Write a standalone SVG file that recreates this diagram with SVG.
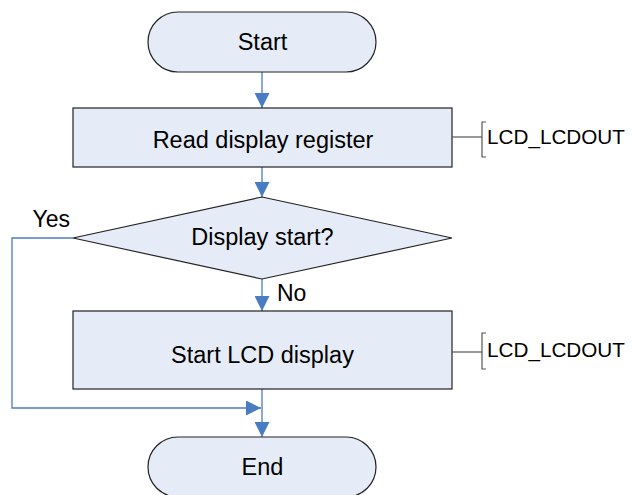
<svg xmlns="http://www.w3.org/2000/svg" width="632" height="495" viewBox="0 0 632 495">
<defs>
<style>
.node{fill:#E6ECF7;stroke:#222;stroke-width:1.2}
.t{font-family:"Liberation Sans",Arial,sans-serif;font-size:23.5px;fill:#000;text-anchor:middle}
.lbl{font-family:"Liberation Sans",Arial,sans-serif;font-size:23px;fill:#000}
.note{font-family:"Liberation Sans",Arial,sans-serif;font-size:20.7px;fill:#000}
.c{fill:none;stroke:#4A7CC4;stroke-width:1.3}
.br{fill:none;stroke:#555;stroke-width:1.2}
</style>
<marker id="ah" markerUnits="userSpaceOnUse" markerWidth="15" markerHeight="15" viewBox="0 0 14 14" refX="14" refY="7" orient="auto">
<path d="M0,0 L14,7 L0,14 Z" fill="#4A7CC4"/>
</marker>
</defs>
<g id="connectors">
<line class="c" x1="262" y1="72" x2="262" y2="108" marker-end="url(#ah)"/>
<line class="c" x1="262" y1="167" x2="262" y2="197" marker-end="url(#ah)"/>
<line class="c" x1="262" y1="279" x2="262" y2="311" marker-end="url(#ah)"/>
<polyline class="c" points="73,238 12,238 12,408 261,408" marker-end="url(#ah)"/>
<line class="c" x1="262" y1="389" x2="262" y2="437" marker-end="url(#ah)"/>
<text class="lbl" x="32.5" y="226.5">Yes</text>
<text class="lbl" x="277" y="301">No</text>
</g>
<g id="start">
<rect class="node" x="148" y="12" width="228" height="60" rx="30" ry="30"/>
<text class="t" x="262.5" y="49.5">Start</text>
</g>
<g id="read">
<rect class="node" x="73" y="108" width="379" height="59"/>
<text class="t" x="263" y="148">Read display register</text>
</g>
<g id="note1">
<line class="br" x1="452" y1="137" x2="482" y2="137"/>
<polyline class="br" points="486,122 482,122 482,157 486,157"/>
<text class="note" x="487" y="144.3">LCD_LCDOUT</text>
</g>
<g id="decision">
<polygon class="node" points="262,197 452,238 262,279 73,238"/>
<text class="t" x="262.5" y="245">Display start?</text>
</g>
<g id="startlcd">
<rect class="node" x="73" y="311" width="379" height="78"/>
<text class="t" x="262.5" y="362.5">Start LCD display</text>
</g>
<g id="note2">
<line class="br" x1="452" y1="352" x2="482" y2="352"/>
<polyline class="br" points="486,333 482,333 482,369 486,369"/>
<text class="note" x="487" y="356.7">LCD_LCDOUT</text>
</g>
<g id="end">
<rect class="node" x="148" y="437" width="228" height="60" rx="30" ry="30"/>
<text class="t" x="262.5" y="475">End</text>
</g>
</svg>
